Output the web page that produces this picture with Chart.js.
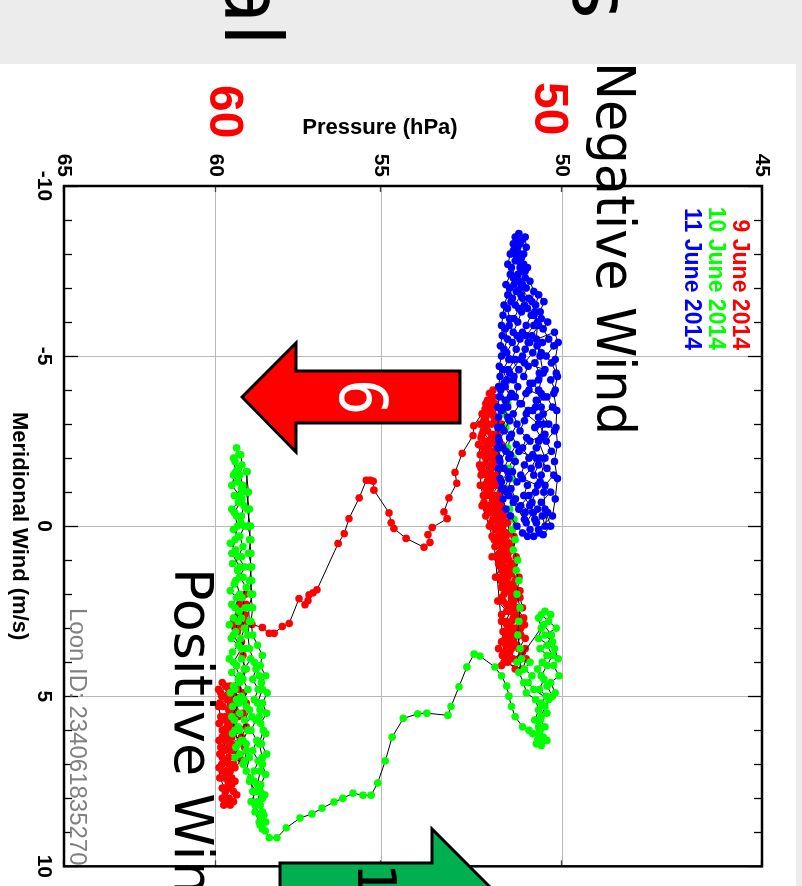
<!DOCTYPE html>
<html>
<head>
<meta charset="utf-8">
<script src="https://cdn.jsdelivr.net/npm/chart.js@4.4.1/dist/chart.umd.min.js"></script>
<style>
html, body { margin: 0; padding: 0; width: 802px; height: 886px; overflow: hidden; background: #ececec; }
/* the whole slide is laid out upright, then turned a quarter clockwise */
#stage { position: absolute; left: 0; top: 0; width: 886px; height: 802px; overflow: hidden;
         transform-origin: 0 0; transform: translate(802px, 0) rotate(90deg); background: #ececec; }
#panel { position: absolute; left: 64px; top: 6px; width: 822px; height: 796px; background: #fff; }
#overlay { position: absolute; left: 0; top: 0; }
</style>
</head>
<body>
<div id="stage">
  <div id="panel"><canvas id="wind" width="822" height="796"></canvas></div>
  <svg id="overlay" width="886" height="802">
    <text x="46" y="577" font-family="DejaVu Sans" font-size="80" text-anchor="end">al</text>
    <text x="19" y="229" font-family="DejaVu Sans" font-size="80" text-anchor="end">s</text>
    <text x="62" y="205" font-family="DejaVu Sans" font-size="54" textLength="373" lengthAdjust="spacingAndGlyphs">Negative Wind</text>
    <text x="568" y="627" font-family="DejaVu Sans" font-size="54">Positive Wind</text>
    <text x="82" y="267" font-family="Liberation Sans" font-weight="bold" font-size="48" fill="#ff0000">50</text>
    <text x="85" y="592" font-family="Liberation Sans" font-weight="bold" font-size="48" fill="#ff0000">60</text>
    <polygon points="371,342 423,342 423,506 452,506 397,560 343,506 371,506" fill="#ff0000" stroke="#000" stroke-width="3"/>
    <text x="397" y="462" font-family="DejaVu Sans" font-size="66" fill="#fff" text-anchor="middle" textLength="36" lengthAdjust="spacingAndGlyphs">6</text>
    <polygon points="863,522 863,370 829,370 889,310 949,370 915,370 915,522" fill="#00b050" stroke="#000" stroke-width="3"/>
    <text x="863" y="444" font-family="DejaVu Sans" font-size="54" fill="#000">10</text>
    <text x="608" y="732" font-family="Liberation Sans" font-size="24" fill="#808080">Loon ID: 234061835270</text>
  </svg>
</div>
<script>
// [meridional wind (m/s), pressure (hPa)]
var LABELS = ['9 June 2014', '10 June 2014', '11 June 2014'];
var COLORS = ['#ff0000', '#00ff00', '#0000ff'];
var WIND_MIN = -10, WIND_MAX = 10;
var PRESSURE_TICKS = [45, 50, 55, 60, 65];

// 9 June: loitering near 51.5 hPa
var june9Low = [
  [4.1,51.62],[3.8,51.45],[3.6,51.70],[3.3,51.52],[3.0,51.38],[2.8,51.62],[2.5,51.48],[2.2,51.72],[2.0,51.55],[1.7,51.40],
  [1.5,51.65],[1.2,51.50],[0.9,51.75],[0.7,51.58],[0.4,51.82],[0.2,51.62],[-0.1,51.90],[-0.3,51.72],[-0.6,51.95],[-0.8,51.80],
  [-1.1,52.05],[-1.3,51.88],[-1.6,52.12],[-1.8,51.95],[-2.1,52.15],[-2.3,51.98],[-2.6,52.18],[-2.8,52.00],[-3.1,52.10],[-3.3,51.92],
  [-3.6,52.05],[-3.8,51.85],
  [-3.5,51.75],[-3.2,51.82],[-2.9,51.70],[-2.6,51.88],[-2.4,51.78],[-2.1,51.92],[-1.9,51.80],[-1.6,51.95],[-1.4,51.82],[-1.1,51.92],
  [-0.9,51.78],[-0.6,51.85],[-0.3,51.55],[-0.1,51.45],[0.2,51.40],[0.5,51.48],[0.7,51.32],[1.0,51.42],[1.3,51.30],[1.6,51.25],
  [1.9,51.38],[2.1,51.20],[2.4,51.32],[2.7,51.15],[3.0,51.25],[3.2,51.10],[3.5,51.20],[3.7,51.05],[3.9,51.30],
  [3.6,51.35],[3.3,51.28],[3.1,51.45],[2.8,51.35],[2.6,51.25],[2.3,51.48],[2.0,51.35],[1.8,51.52],[1.5,51.45],[1.3,51.62],
  [1.0,51.55],[0.8,51.68],[0.5,51.65],[0.3,51.50],[0.0,51.72],[-0.2,51.85],[-0.5,52.00],[-0.7,52.10],[-1.0,51.98],[-1.2,52.15],
  [-1.5,52.02],[-1.7,52.18],[-2.0,52.05],[-2.2,51.85],[-2.5,52.08],[-2.7,51.90],[-3.0,52.00],[-3.2,51.78],[-3.4,51.95],
  [-3.0,51.62],[-2.7,51.72],[-2.4,51.62],[-2.0,51.70],[-1.7,51.62],[-1.3,51.72],[-1.0,51.65],[-0.7,51.72],[-0.4,51.62],[0.0,51.58],
  [0.3,51.28],[0.6,51.40],[0.9,51.22],[1.2,51.38],[1.5,51.15],[1.8,51.28],[2.1,51.12],[2.4,51.05],[2.7,51.30],[2.9,51.00],
  [3.2,51.38],[3.5,51.50],[3.8,51.60],[4.0,51.45],
  [4.2,51.25],[3.9,51.12],[3.6,50.98],[3.4,51.30],[3.1,51.18],[2.8,51.05],[2.5,51.40],[2.2,51.28],[1.9,51.12],[1.6,51.55],
  [1.4,51.35],[1.1,51.28],[0.8,51.58],[0.5,51.35],[0.2,51.52],[-0.1,51.65],[-0.4,51.78],[-0.6,51.62],[-0.9,51.90],[-1.2,51.70],
  [-1.5,51.75],[-1.8,51.85],[-2.1,51.78],[-2.4,51.95],[-2.7,51.80],[-3.0,51.75],[-3.3,51.85],[-3.6,51.80],[-3.9,51.95],
  [-3.6,51.90],[-3.3,52.12],[-2.9,52.05],[-2.5,51.85],[-2.1,52.02],[-1.7,51.88],[-1.3,52.00],[-0.9,51.88],[-0.5,51.72],[-0.2,51.62],
  [0.1,51.80],[0.4,51.62],[0.7,51.45],[1.0,51.65],[1.3,51.45],[1.6,51.62],[1.9,51.48],[2.2,51.58],[2.5,51.38],[2.8,51.50],
  [3.1,51.32],[3.4,51.62],[3.7,51.40],[4.0,51.55],
  [4.2,51.05],[3.9,50.95],[3.6,51.15],[3.3,50.98],[3.0,51.10],[2.7,51.02],[2.4,51.20],[2.1,51.35],[1.8,51.62],[1.5,51.78],
  [1.2,51.65],[0.9,51.88],[0.6,51.62],[0.3,51.88],[0.0,51.95],[-0.3,52.05],[-0.6,52.15],[-0.9,52.12],[-1.2,52.20],[-1.5,52.18],
  [-1.8,52.22],[-2.1,52.20],[-2.4,52.25],[-2.7,52.15],[-3.0,52.20],[-3.3,52.15],
  [3.7,51.55],[3.4,51.40],[3.1,51.58],[2.9,51.48],[2.6,51.62],[2.3,51.40],[2.1,51.62],[1.8,51.45],[1.4,51.55],[1.1,51.70],
  [0.8,51.45],[0.6,51.80],[0.3,51.72],[0.1,51.62],[-0.2,51.75],[-0.4,51.95],[-0.7,51.88],[-0.9,52.02],[-1.2,51.82],[-1.5,51.88],
  [-1.8,52.10],[-2.0,51.90],[-2.3,52.12],[-2.5,51.95],[-2.8,52.12],[-3.0,51.88],[-3.2,52.05],[-3.5,51.92],[-3.7,52.00],[-4.0,51.85]
];
// 9 June: descent to 60 hPa
var june9Drop = [
  [-3.44,52.07],[-2.95,52.38],[-2.66,52.40],[-2.14,52.70],[-1.58,52.90],[-1.26,52.85],[-0.83,53.07],[-0.42,53.21],[-0.22,53.12],
  [0.04,53.54],[0.25,53.66],[0.48,53.60],[0.62,53.77],[0.36,54.28],[0.07,54.63],[-0.10,54.71],[-0.39,54.77],[-1.06,55.21],
  [-1.32,55.23],[-1.35,55.32],[-1.35,55.43],[-0.83,55.64],[-0.22,55.94],[0.22,56.08],[0.51,56.26],[1.87,56.89],[1.96,57.01],
  [2.02,57.13],[2.19,57.16],[2.31,57.25],[2.13,57.43],[2.86,57.73],[2.95,57.94],[3.15,58.19],[3.15,58.34],[2.98,58.55],
  [2.89,58.87],[2.80,59.02]
];
// 9 June: near 60 hPa
var june9High = [
  [2.6,59.10],[2.3,59.05],[2.1,59.18],[2.0,59.08],[2.3,59.25],[2.6,59.30],[2.9,59.22],[3.0,59.40],[2.8,59.45],[3.1,59.32],
  [3.4,59.20],[3.8,59.15],[4.2,59.10],[4.5,59.20],[4.7,59.55],[4.6,59.80],[4.8,59.92],[5.0,59.70],[5.2,59.88],[5.1,59.55],
  [5.4,59.40],[5.6,59.70],[5.8,59.90],[6.0,59.62],[6.2,59.80],[6.4,59.50],[6.6,59.75],[6.8,59.60],[7.0,59.82],[7.2,59.55],
  [7.4,59.75],[7.6,59.50],[7.8,59.70],[8.0,59.58],[8.2,59.75],[8.1,59.45],[7.9,59.35],[7.7,59.60],[7.5,59.40],[7.2,59.70],
  [7.0,59.45],[6.8,59.25],[6.6,59.45],[6.4,59.30],[6.2,59.50],[6.0,59.35],[5.8,59.55],[5.6,59.30],[5.4,59.60],[5.2,59.35],
  [5.0,59.50],[4.8,59.30],[4.7,59.70],[4.9,59.85],[5.1,59.65],[5.3,59.78],[5.5,59.50],[5.7,59.80],[5.9,59.45],[6.1,59.70],
  [6.3,59.90],[6.5,59.62],[6.7,59.88],[6.9,59.70],[7.1,59.40],[7.3,59.62],[6.9,59.20],[6.5,59.10],[6.2,59.20],[5.9,59.05],
  [5.5,59.15],[5.2,59.05],[4.9,59.15],[5.0,59.45],[5.3,59.55],[5.7,59.65],[6.0,59.80],[6.3,59.70],[6.6,59.55],[7.0,59.60],
  [7.4,59.50],[7.7,59.80],[8.0,59.80],[8.2,59.55],
  [8.0,59.68],[7.7,59.72],[7.4,59.88],[7.1,59.90],[6.8,59.80],[6.5,59.85],[6.2,59.60],[5.9,59.65],[5.6,59.85],[5.3,59.92],
  [5.0,59.82],[4.8,59.60],[7.2,59.80],[7.5,59.62],[7.8,59.45]
];

// 10 June: near 60 hPa
var june10High = [
  [-2.3,59.35],[-2.1,59.28],[-1.9,59.40],[-1.7,59.30],[-1.5,59.45],[-1.3,59.32],[-1.1,59.20],[-0.9,59.42],[-0.7,59.30],[-0.5,59.50],
  [-0.3,59.35],[-0.1,59.22],[0.1,59.45],[0.3,59.30],[0.5,59.55],[0.7,59.38],[0.9,59.20],[1.1,59.48],[1.3,59.32],[1.5,59.15],
  [1.7,59.42],[1.9,59.55],[2.1,59.35],[2.3,59.50],[2.5,59.28],[2.7,59.45],[2.9,59.58],[3.1,59.38],[3.3,59.52],[3.5,59.30],
  [3.7,59.48],[3.9,59.58],[4.1,59.35],[4.3,59.50],[4.5,59.30],[4.7,59.45],[4.9,59.55],[5.1,59.35],[5.3,59.48],[5.5,59.25],
  [5.7,59.42],[5.9,59.30],[6.1,59.48],[6.3,59.20],[6.5,59.38],[6.7,59.25],[6.9,59.10],
  [6.6,59.05],[6.3,59.15],[6.0,59.00],[5.7,59.10],[5.4,58.95],[5.1,59.12],[4.8,59.00],[4.5,59.15],[4.2,59.05],[3.9,59.20],
  [3.6,59.08],[3.3,59.22],[3.0,59.10],[2.7,59.20],[2.4,59.08],[2.1,59.18],[1.8,59.05],[1.5,59.25],[1.2,59.10],[0.9,59.30],
  [0.6,59.15],[0.3,59.25],[0.0,59.10],[-0.3,59.20],[-0.6,59.12],[-0.9,59.25],[-1.2,59.15],[-1.5,59.25],[-1.8,59.18],[-2.1,59.22],
  [-2.0,59.45],[-1.6,59.38],[-1.2,59.50],[-0.8,59.18],[-0.4,59.42],[0.0,59.32],[0.4,59.40],[0.8,59.50],[1.2,59.25],[1.6,59.38],
  [2.0,59.25],[2.4,59.40],[2.8,59.30],[3.2,59.45],[3.6,59.20],[4.0,59.45],[4.4,59.25],[4.8,59.40],[5.2,59.28],[5.6,59.50],
  [6.0,59.40],[6.4,59.30],[6.8,59.40],[7.0,59.15],[7.4,58.92],[7.8,58.85],[8.2,58.78],[8.5,58.62],[8.0,58.55],[7.6,58.70],
  [7.2,58.62],[6.8,58.55],[6.4,58.65],[6.0,58.52],[5.6,58.65],[5.2,58.70],[4.8,58.55],[4.4,58.65],
  [4.0,58.80],[3.6,58.95],[3.2,59.00],[2.8,58.95],[2.4,58.98],[2.0,58.85],[1.6,58.95],[1.2,58.88],[0.8,58.98],[0.4,58.90],
  [0.0,59.00],[-0.5,58.95],[-1.0,59.05],[-1.6,59.02],
  [-1.6,59.05],[-1.0,58.98],[-0.5,59.02],[0.0,58.92],[0.4,58.95],[0.8,58.90],[1.2,58.93],[1.6,58.88],[2.0,58.92],[2.4,58.85],
  [2.8,58.90],[3.2,58.85],[3.5,58.70],[3.8,58.55],[4.1,58.62],[4.4,58.45],[4.6,58.58],[4.9,58.40],[5.2,58.55],[5.5,58.42],
  [5.8,58.60],[6.1,58.45],[6.4,58.58],[6.7,58.42],[7.0,58.55],[7.3,58.45],[7.6,58.60],[7.9,58.48],[8.2,58.62],[8.5,58.50],
  [8.7,58.65],
  [8.4,58.78],[8.1,58.90],[7.8,58.75],[7.5,58.95],[7.2,58.80],[6.9,58.68],[6.6,58.85],[6.3,58.72],[6.0,58.90],[5.7,58.75],
  [5.4,58.62],[5.1,58.80],[4.8,58.68],[4.5,58.85],[4.2,58.75],[3.9,58.92],[4.2,59.10],[4.6,59.25],[5.0,59.20],[5.3,59.05],
  [5.6,58.88],[6.0,59.25],[6.4,59.05],[6.8,58.95],[7.2,59.05],[7.5,58.80],[7.8,58.62],[8.1,58.70],[8.4,58.55],[8.7,58.45],
  [8.9,58.55]
];
// 10 June: ascent back to about 51 hPa
var june10Climb = [
  [8.78,58.62],[8.96,58.46],[9.16,58.34],[9.16,58.10],[8.87,57.82],[8.58,57.40],[8.46,57.04],[8.29,56.74],[8.11,56.38],
  [8.00,56.12],[7.85,55.82],[7.91,55.53],[7.91,55.29],[7.55,55.10],[6.90,54.88],[6.20,54.68],[5.65,54.36],[5.52,53.95],
  [5.50,53.69],[5.56,53.10],[5.30,53.01],[4.72,52.79],[4.14,52.57],[3.76,52.37],[3.82,52.21],[4.14,51.80]
];
// 10 June: near 50.5 hPa, then drifting up through the 9 June cluster
var june10Low = [
  [4.4,51.62],[4.7,51.48],[5.0,51.42],[5.3,51.35],[5.6,51.25],[5.9,51.05],[6.0,50.88],[6.1,50.78],[6.3,50.65],[6.45,50.55],
  [6.3,50.48],[6.1,50.62],[5.9,50.45],[5.7,50.58],[5.5,50.40],[5.2,50.55],[5.0,50.42],[4.8,50.60],[4.5,50.48],[4.2,50.65],
  [4.0,50.52],[3.8,50.40],[3.6,50.58],[3.4,50.25],[3.2,50.45],[3.0,50.15],[2.8,50.35],[2.6,50.55],[2.5,50.45],[2.7,50.62],
  [3.0,50.55],[3.3,50.62],[3.6,50.20],[3.9,50.10],[4.1,50.22],[4.4,50.08],[4.6,50.30],[4.9,50.18],[5.1,50.35],[4.8,50.75],
  [4.6,50.90],[4.4,50.80],[4.2,51.00],[4.0,50.85],[3.9,51.08],[4.3,51.15],[4.6,51.02],[4.9,50.95],[5.1,50.70],[5.4,50.62],
  [5.7,50.72],[6.0,50.58],[6.3,50.40],
  [6.4,50.68],[6.2,50.50],[5.9,50.62],[5.6,50.55],[5.3,50.45],[5.0,50.25],[4.7,50.40],[4.4,50.55],[4.1,50.40],[3.8,50.25],
  [3.5,50.40],[3.2,50.28],[2.9,50.48],[2.6,50.30],
  [4.0,51.20],[3.6,51.12],[3.2,51.18],[2.8,51.15],[2.4,51.12],[2.0,51.20],[1.6,51.15],[1.3,51.22],[1.0,51.18],[0.7,51.30],
  [0.4,51.25],[0.1,51.32],[-0.2,51.28],[-0.5,51.40],[-0.8,51.30],[-1.1,51.45],[-1.4,51.35],[-1.7,51.42],[-2.0,51.30],[-2.3,51.45],
  [-2.6,51.38],[-2.9,51.50],[-3.1,51.40],[-3.3,51.55],[-3.6,51.45]
];

// 11 June: near 51 hPa
var june11 = [
  [-3.5,51.45],[-3.8,51.38],[-4.1,51.52],[-4.3,51.30],[-4.6,51.44],[-4.9,51.25],[-5.1,51.48],[-5.4,51.33],[-5.6,51.20],[-5.9,51.41],
  [-6.1,51.28],[-6.4,51.15],[-6.6,51.36],[-6.9,51.22],[-7.1,51.05],[-7.3,51.30],[-7.6,51.12],[-7.8,51.25],[-8.0,51.02],[-8.2,51.18],
  [-8.4,51.08],[-8.6,51.15],[-8.5,50.98],
  [-8.2,50.95],[-7.9,51.08],[-7.6,50.92],[-7.3,50.98],[-7.0,51.10],[-6.7,50.88],[-6.5,51.00],[-6.2,50.82],[-5.9,50.95],[-5.7,51.05],
  [-5.4,50.86],[-5.2,50.98],[-4.9,51.10],[-4.7,50.90],[-4.4,51.02],[-4.2,50.85],[-3.9,50.96],[-3.6,51.08],[-3.4,50.90],[-3.1,51.00],
  [-2.8,51.12],[-2.6,50.94],[-2.3,51.05],[-2.0,50.88],[-1.8,51.00],[-1.5,51.10],[-1.2,50.92],[-0.9,51.02],[-0.6,50.86],[-0.4,50.98],
  [-0.7,51.30],[-1.0,51.48],[-1.3,51.62],[-1.6,51.45],[-1.9,51.66],[-2.2,51.50],[-2.5,51.68],[-2.8,51.55],[-3.1,51.40],[-3.4,51.62],
  [-3.7,51.52],[-4.0,51.64],[-4.3,51.48],[-4.6,51.58],[-4.9,51.42],[-5.2,51.55],[-5.5,51.46],[-5.8,51.52],[-6.1,51.40],[-6.4,51.46],
  [-6.7,51.32],[-7.0,51.40],[-7.3,51.22],[-7.6,51.35],[-7.9,51.20],[-8.1,51.30],[-8.4,51.22],
  [-8.0,51.12],[-7.7,51.02],[-7.4,51.18],[-7.1,51.28],[-6.8,51.10],[-6.5,51.25],[-6.3,51.08],[-6.0,51.18],[-5.7,51.30],[-5.5,51.12],
  [-5.2,51.22],[-4.9,51.35],[-4.6,51.15],[-4.4,51.28],[-4.1,51.18],[-3.8,51.25],[-3.6,51.12],[-3.3,51.30],[-3.0,51.20],[-2.7,51.35],
  [-2.4,51.22],[-2.1,51.38],[-1.9,51.25],[-1.6,51.32],[-1.3,51.20],[-1.1,51.36],[-0.8,51.24],[-0.5,51.15],
  [-0.2,51.00],[0.1,50.85],[0.3,50.75],[0.2,50.60],[-0.1,50.68],[-0.3,50.52],[0.0,50.45],[-0.4,50.38],
  [-0.7,50.55],[-1.0,50.30],[-1.2,50.45],[-1.5,50.22],[-1.7,50.40],[-2.0,50.58],[-2.2,50.28],[-2.5,50.42],[-2.8,50.20],[-3.0,50.35],
  [-3.3,50.50],[-3.5,50.25],[-3.8,50.40],[-4.0,50.18],[-4.3,50.30],[-4.5,50.15],[-4.8,50.28],[-5.0,50.42],[-5.3,50.22],[-5.5,50.35],
  [-5.8,50.50],[-6.0,50.38],[-6.3,50.58],[-6.6,50.48],[-6.8,50.62],[-6.5,50.70],
  [-6.2,50.75],[-5.9,50.62],[-5.6,50.80],[-5.3,50.66],[-5.1,50.55],[-4.8,50.72],[-4.5,50.60],[-4.2,50.78],[-3.9,50.55],[-3.7,50.68],
  [-3.4,50.78],[-3.2,50.62],[-2.9,50.72],[-2.6,50.55],[-2.3,50.68],[-2.1,50.78],[-1.8,50.62],[-1.5,50.75],[-1.3,50.58],[-1.0,50.70],
  [-0.7,50.80],[-0.5,50.65],[-0.2,50.72],[0.1,50.62],
  [-0.3,50.25],[-0.8,50.18],[-1.4,50.12],[-1.9,50.20],[-2.4,50.12],[-2.9,50.16],[-3.4,50.14],[-3.9,50.22],[-4.4,50.12],[-4.9,50.18],
  [-5.4,50.10],[-5.7,50.20],
  [-5.4,50.90],[-5.0,51.05],[-4.5,51.40],[-4.2,51.55],[-3.9,51.35],[-3.5,51.55],[-3.2,51.45],[-2.9,51.62],[-2.6,51.40],[-2.3,51.58],
  [-2.0,51.42],[-1.7,51.55],[-1.4,51.42],[-1.1,51.55],[-0.9,51.42],
  [-0.1,50.95],[-0.4,50.78],[-0.6,51.10],[-0.9,50.88],[-1.2,50.65],[-1.4,51.05],[-1.7,50.82],[-2.0,50.68],[-2.2,51.15],[-2.5,50.85],
  [-2.7,50.45],[-3.0,50.62],[-3.3,50.95],[-3.5,50.70],[-3.8,50.48],[-4.0,50.88],[-4.3,50.62],[-4.6,50.45],[-4.8,51.00],[-5.1,50.78],
  [-5.4,50.52],[-5.6,50.95],[-5.9,50.75],[-6.1,50.55],[-6.4,50.92],[-6.7,51.05],[-7.0,50.95],[-7.2,51.15],[-7.5,51.05],[-7.8,51.15],
  [-8.0,51.25],[-8.3,51.12],[-8.5,51.25],
  [-8.3,51.30],[-8.0,51.38],[-7.7,51.45],[-7.4,51.38],[-7.1,51.50],[-6.8,51.45],[-6.5,51.55],[-6.2,51.58],[-5.9,51.62],[-5.6,51.60],
  [-5.3,51.65],[-5.0,51.62],[-4.7,51.68],[-4.4,51.66],[-4.1,51.70],[-3.8,51.68],[-3.5,51.72],[-3.2,51.70],[-2.9,51.72],[-2.6,51.70],
  [-2.3,51.72],[-2.0,51.68],[-1.7,51.70],[-1.4,51.66],[-1.1,51.62],[-0.8,51.58],[-0.5,51.50],[-0.3,51.38],[0.0,51.20],[0.2,51.05],
  [0.3,50.92],[0.25,50.50],[0.0,50.30],[-0.5,50.45],[-1.0,50.48],[-1.5,50.55],[-2.0,50.45],[-2.5,50.62],[-3.0,50.48],[-3.5,50.55],
  [-4.0,50.62],[-4.5,50.50],[-5.0,50.58],[-5.5,50.68],[-6.0,50.65],[-6.3,50.72],[-6.6,50.80],[-6.9,50.75],[-7.2,50.85],[-7.5,50.98]
];

var series = [
  june9Low.concat(june9Drop, june9High),
  june10High.concat(june10Climb, june10Low),
  june11
];

function toPoints(list) {
    return list.map(function(p) { return {x: p[0], y: p[1]}; });
}

var tickFont = {family: 'Liberation Sans', size: 21, weight: 'bold'};

function line(ctx, x1, y1, x2, y2) {
    ctx.beginPath();
    ctx.moveTo(x1, y1);
    ctx.lineTo(x2, y2);
    ctx.stroke();
}

// frame, inward ticks, axis titles and the legend
var decorations = {
    id: 'decorations',
    afterDatasetsDraw: function(chart) {
        var ctx = chart.ctx, a = chart.chartArea;
        var x = chart.scales.x, y = chart.scales.y;
        ctx.save();
        ctx.strokeStyle = '#000';
        ctx.lineWidth = 1.3;
        for (var v = WIND_MIN; v <= WIND_MAX; v++) {
            var px = Math.round(x.getPixelForValue(v)) + 0.5;
            var len = v % 5 === 0 ? 14 : 8;
            line(ctx, px, a.bottom, px, a.bottom - len);
            line(ctx, px, a.top, px, a.top + len);
        }
        ctx.strokeStyle = '#444';
        PRESSURE_TICKS.forEach(function(p) {
            var py = Math.round(y.getPixelForValue(p)) + 0.5;
            line(ctx, a.left, py, a.left + 6, py);
            line(ctx, a.right, py, a.right - 6, py);
        });
        ctx.strokeStyle = '#000';
        ctx.lineWidth = 2.5;
        ctx.strokeRect(a.left, a.top, a.right - a.left, a.bottom - a.top);

        ctx.fillStyle = '#000';
        ctx.font = 'bold 22px "Liberation Sans"';
        ctx.textAlign = 'center';
        ctx.textBaseline = 'middle';
        ctx.fillText('Meridional Wind (m/s)', (a.left + a.right) / 2, a.bottom + 45);
        ctx.translate(a.left - 58, a.top + 382);
        ctx.rotate(-Math.PI / 2);
        ctx.fillText('Pressure (hPa)', 0, 0);
        ctx.restore();

        ctx.save();
        ctx.font = 'bold 23px "Liberation Sans"';
        ctx.textAlign = 'right';
        ctx.textBaseline = 'alphabetic';
        chart.data.datasets.forEach(function(ds, i) {
            ctx.fillStyle = ds.pointBackgroundColor;
            ctx.fillText(ds.label, a.left + 164, a.top + 29 + i * 24);
        });
        ctx.restore();
    }
};

var datasets = series.map(function(list, i) {
    return {
        label: LABELS[i],
        data: toPoints(list),
        showLine: true,
        borderColor: '#000',
        borderWidth: 1,
        pointBackgroundColor: COLORS[i],
        pointBorderWidth: 0,
        pointRadius: 3.8,
        order: 3 - i
    };
});

var chart = new Chart(document.getElementById('wind'), {
    type: 'scatter',
    data: {datasets: datasets},
    options: {
        responsive: false,
        animation: false,
        devicePixelRatio: 1,
        events: [],
        layout: {padding: {top: 34, right: 11, left: 0, bottom: 0}},
        plugins: {legend: {display: false}, tooltip: {enabled: false}},
        scales: {
            x: {
                type: 'linear', min: WIND_MIN, max: WIND_MAX,
                ticks: {stepSize: 5, color: '#000', font: tickFont, padding: 8, maxRotation: 0},
                grid: {color: '#b8b8b8', drawTicks: false},
                border: {display: false},
                afterFit: function(s) { s.height = 64; }
            },
            y: {
                type: 'logarithmic', min: 45, max: 65, reverse: true,
                afterBuildTicks: function(s) { s.ticks = PRESSURE_TICKS.map(function(v) { return {value: v}; }); },
                ticks: {color: '#000', font: tickFont, padding: 9, callback: function(v) { return String(v); }},
                grid: {color: '#b8b8b8', drawTicks: false},
                border: {display: false},
                afterFit: function(s) { s.width = 122; }
            }
        }
    },
    plugins: [decorations]
});
</script>
</body>
</html>
